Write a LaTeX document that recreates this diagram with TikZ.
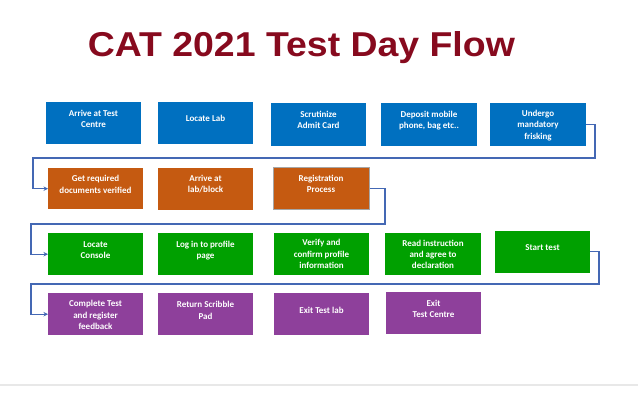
\documentclass[tikz,border=0pt]{standalone}
\usepackage{fontspec}
\setmainfont{Carlito}
\newfontfamily\titlefont{Liberation Sans}
\usetikzlibrary{arrows.meta,calc}
\definecolor{cblue}{RGB}{0,112,192}
\definecolor{corange}{RGB}{197,90,17}
\definecolor{cgreen}{RGB}{0,160,0}
\definecolor{cpurple}{RGB}{142,64,155}
\definecolor{ctitle}{RGB}{135,10,30}
\definecolor{cline}{RGB}{68,104,180}
\tikzset{
  stepbox/.style={rectangle,anchor=north west,inner sep=0pt,minimum width=95pt,minimum height=42pt},
  bluebox/.style={stepbox,fill=cblue},
  orangebox/.style={stepbox,fill=corange},
  greenbox/.style={stepbox,fill=cgreen},
  purplebox/.style={stepbox,fill=cpurple},
  txt/.style={text=white,align=center,font=\fontsize{9}{11.3}\selectfont\bfseries,inner sep=0pt},
  conn/.style={draw=cline,line width=1.4pt},
  arr/.style={conn,-{Stealth[length=4.5pt,width=4.5pt]}}
}
\begin{document}
\begin{tikzpicture}[x=1pt,y=-1pt]
\useasboundingbox (0,0) rectangle (638,400);
\fill[white] (0,0) rectangle (638,400);
\node[text=ctitle,font=\titlefont\fontsize{34.5}{36}\selectfont\bfseries,anchor=base,inner sep=0pt,xscale=1.085] (title) at (301.4,56) {CAT 2021 Test Day Flow};
% row 1
\node[bluebox] (b1) at (46,102) {};
\node[bluebox] (b2) at (158,102) {};
\node[bluebox,minimum height=43pt] (b3) at (271,103) {};
\node[bluebox,minimum height=43pt,minimum width=96pt] (b4) at (381,103) {};
\node[bluebox,minimum height=43pt,minimum width=96pt] (b5) at (490,103) {};
\node[txt] (t1) at (93.5,119) {Arrive at Test\\Centre};
\node[txt] (t2) at (205.5,118.5) {Locate Lab};
\node[txt] (t3) at (318.5,120) {Scrutinize\\Admit Card};
\node[txt] (t4) at (429,120.5) {Deposit mobile\\phone, bag etc..};
\node[txt] (t5) at (538,125.5) {Undergo\\mandatory\\frisking};
% row 2
\node[orangebox,minimum height=41pt] (b6) at (48,168) {};
\node[orangebox] (b7) at (158,168) {};
\node[orangebox,minimum width=96pt,draw=gray!70,line width=0.6pt] (b8) at (273,167) {};
\node[txt] (t6) at (95.5,184.5) {Get required\\documents verified};
\node[txt] (t7) at (205.5,184) {Arrive at\\lab/block};
\node[txt] (t8) at (321,184) {Registration\\Process};
% row 3
\node[greenbox] (b9) at (48,233) {};
\node[greenbox] (b10) at (158,233) {};
\node[greenbox] (b11) at (274,233) {};
\node[greenbox,minimum width=96pt] (b12) at (385,233) {};
\node[greenbox] (b13) at (495,231) {};
\node[txt] (t9) at (95.5,250) {Locate\\Console};
\node[txt] (t10) at (205.5,250.5) {Log in to profile\\page};
\node[txt] (t11) at (321.5,254) {Verify and\\confirm profile\\information};
\node[txt] (t12) at (433,254.5) {Read instruction\\and agree to\\declaration};
\node[txt] (t13) at (542.5,247.5) {Start test};
% row 4
\node[purplebox] (b14) at (48,293) {};
\node[purplebox] (b15) at (158,293) {};
\node[purplebox] (b16) at (274,293) {};
\node[purplebox] (b17) at (386,292) {};
\node[txt] (t14) at (95.5,315) {Complete Test\\and register\\feedback};
\node[txt] (t15) at (205.5,310.5) {Return Scribble\\Pad};
\node[txt] (t16) at (321.5,310) {Exit Test lab};
\node[txt] (t17) at (433.5,309) {Exit\\Test Centre};
% connectors
\coordinate (k1) at (595,158);
\coordinate (k2) at (33,158);
\coordinate (k3) at (385,224);
\coordinate (k4) at (31,224);
\coordinate (k5) at (599,284);
\coordinate (k6) at (31,284);
\draw[arr] (b5.east) -| (k1) -- (k2) |- (b6.west);
\draw[arr] (b8.east) -| (k3) -- (k4) |- (b9.west);
\draw[arr] ([yshift=1pt]b13.east) -| (k5) -- (k6) |- (b14.west);
% bottom rule
\coordinate (r1) at (0,384.5);
\coordinate (r2) at (638,384.5);
\draw[gray!18,line width=2pt] (r1) -- (r2);
\end{tikzpicture}
\end{document}
